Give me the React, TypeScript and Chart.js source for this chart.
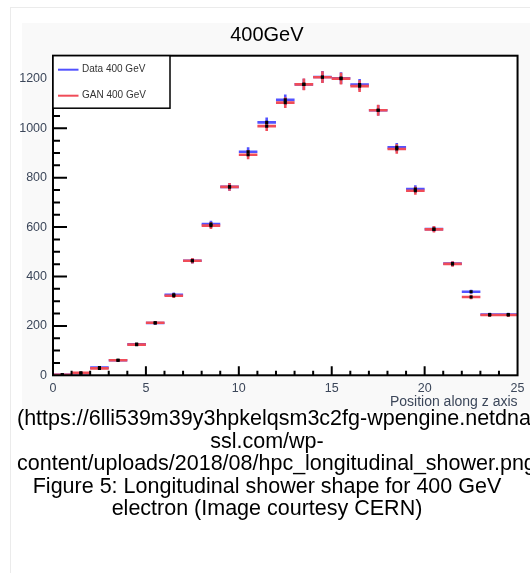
import React, { useEffect, useRef } from "react";
import { Chart, registerables } from "chart.js";

Chart.register(...registerables);

// ---- data ----
const binCenters = [0.5, 1.5, 2.5, 3.5, 4.5, 5.5, 6.5, 7.5, 8.5, 9.5, 10.5, 11.5, 12.5, 13.5, 14.5, 15.5, 16.5, 17.5, 18.5, 19.5, 20.5, 21.5, 22.5, 23.5, 24.5];
const binHalfWidth = 0.5;
const dataValues = [2, 8, 31, 61, 126, 212, 326, 464, 612, 763, 905, 1024, 1115, 1178, 1208, 1203, 1177, 1073, 923, 754, 592, 452, 338, 246, 246];
const dataErrors = [1, 2, 3, 4, 5, 7, 9, 11, 14, 16, 18, 20, 22, 23, 24, 24, 23, 21, 18, 15, 12, 10, 8, 7, 7];
const ganValues = [2, 10, 28, 61, 124, 213, 322, 464, 606, 763, 893, 1009, 1104, 1178, 1207, 1201, 1171, 1073, 916, 747, 591, 451, 317, 244, 244];
const ganErrors = [1, 2, 3, 4, 5, 7, 9, 11, 14, 16, 18, 20, 22, 24, 24, 24, 24, 22, 19, 16, 13, 11, 9, 8, 8];
const seriesLabels = ["Data 400 GeV", "GAN 400 GeV"];
const seriesColors = ["#5252ff", "#f04c58"];
const chartTitle = "400GeV";
const xAxisTitle = "Position along z axis";
const xMin = 0;
const xMax = 25;
const xMajorStep = 5;
const xMinorStep = 1;
const yMin = 0;
const yMax = 1294;
const yMajorStep = 200;
const yMinorStep = 50;
const captionLines = [
  "(https://6lli539m39y3hpkelqsm3c2fg-wpengine.netdna-",
  "ssl.com/wp-",
  "content/uploads/2018/08/hpc_longitudinal_shower.png)",
  "Figure 5: Longitudinal shower shape for 400 GeV",
  "electron (Image courtesy CERN)",
];

const FONT = "'Liberation Sans', Arial, sans-serif";
const LABEL_COLOR = "#3c475a";

const backgroundPlugin = {
  id: "rootBackground",
  beforeDraw(chart: any) {
    const { ctx, width, height, chartArea: a } = chart;
    ctx.save();
    ctx.fillStyle = "#f9f9f9";
    ctx.fillRect(22, 23, width - 22, height - 23);
    ctx.fillStyle = "#ffffff";
    ctx.fillRect(a.left, a.top, a.right - a.left, a.bottom - a.top);
    ctx.restore();
  },
};

const errorBarPlugin = {
  id: "histErrorBars",
  beforeDatasetsDraw(chart: any) {
    const { ctx, scales } = chart;
    const xs = scales.x;
    const ys = scales.y;
    ctx.save();
    ctx.lineWidth = 2.6;
    ctx.lineCap = "butt";
    chart.data.datasets.forEach((ds: any) => {
      ctx.strokeStyle = ds.borderColor;
      ds.data.forEach((p: any, i: number) => {
        const err = ds.errors[i];
        const x0 = xs.getPixelForValue(p.x - binHalfWidth);
        const x1 = xs.getPixelForValue(p.x + binHalfWidth);
        const xc = xs.getPixelForValue(p.x);
        const y = ys.getPixelForValue(p.y);
        const ye0 = ys.getPixelForValue(p.y - err);
        const ye1 = ys.getPixelForValue(p.y + err);
        ctx.beginPath();
        ctx.moveTo(x0, y);
        ctx.lineTo(x1, y);
        ctx.moveTo(xc, ye0);
        ctx.lineTo(xc, ye1);
        ctx.stroke();
      });
    });
    ctx.restore();
  },
};

const frameTicksPlugin = {
  id: "frameTicks",
  afterDraw(chart: any) {
    const { ctx, chartArea: a, scales } = chart;
    const xs = scales.x;
    const ys = scales.y;
    ctx.save();
    ctx.strokeStyle = "#000";
    ctx.lineWidth = 2;
    ctx.beginPath();
    for (let v = xMin + xMinorStep; v < xMax; v += xMinorStep) {
      const px = xs.getPixelForValue(v);
      const len = v % xMajorStep === 0 ? 9 : 4.5;
      ctx.moveTo(px, a.bottom);
      ctx.lineTo(px, a.bottom - len);
    }
    for (let v = yMin + yMinorStep; v < yMax; v += yMinorStep) {
      const py = ys.getPixelForValue(v);
      const len = v % yMajorStep === 0 ? 14 : 7;
      ctx.moveTo(a.left, py);
      ctx.lineTo(a.left + len, py);
    }
    ctx.stroke();
    ctx.strokeRect(a.left, a.top, a.right - a.left, a.bottom - a.top);

    // legend box inside the frame
    const bx = a.left;
    const by = a.top;
    const bw = 117;
    const bh = 52.5;
    ctx.fillStyle = "#ffffff";
    ctx.fillRect(bx, by, bw, bh);
    ctx.lineWidth = 1.5;
    ctx.strokeRect(bx, by, bw, bh);
    ctx.font = `10px ${FONT}`;
    ctx.textBaseline = "middle";
    ctx.textAlign = "left";
    chart.data.datasets.forEach((ds: any, i: number) => {
      const ly = by + 14 + i * 26;
      ctx.strokeStyle = ds.borderColor;
      ctx.lineWidth = 2;
      ctx.beginPath();
      ctx.moveTo(bx + 5, ly);
      ctx.lineTo(bx + 25.5, ly);
      ctx.stroke();
      ctx.fillStyle = "#333";
      ctx.fillText(ds.label, bx + 29, ly);
    });
    ctx.restore();
  },
};

export default function App() {
  const canvasRef = useRef<HTMLCanvasElement | null>(null);

  useEffect(() => {
    if (!canvasRef.current) return;
    const makePoints = (vals: number[]) => binCenters.map((x, i) => ({ x, y: vals[i] }));
    const chart = new Chart(canvasRef.current, {
      type: "scatter",
      data: {
        datasets: [
          {
            label: seriesLabels[0],
            data: makePoints(dataValues),
            errors: dataErrors,
            borderColor: seriesColors[0],
            backgroundColor: "#000",
            pointStyle: "rect",
            pointRadius: 2.2,
            pointBorderWidth: 0,
            showLine: false,
          } as any,
          {
            label: seriesLabels[1],
            data: makePoints(ganValues),
            errors: ganErrors,
            borderColor: seriesColors[1],
            backgroundColor: "#000",
            pointStyle: "rect",
            pointRadius: 2.2,
            pointBorderWidth: 0,
            showLine: false,
          } as any,
        ],
      },
      options: {
        animation: false,
        responsive: false,
        maintainAspectRatio: false,
        layout: { padding: { left: 11, right: 7.3, top: 0, bottom: 0 } },
        plugins: {
          legend: { display: false },
          tooltip: { enabled: false },
          title: {
            display: true,
            text: chartTitle,
            color: "#000",
            font: { family: FONT, size: 20, weight: "normal" },
            padding: { top: 23, bottom: 8.7 },
          },
        },
        scales: {
          x: {
            type: "linear",
            min: xMin,
            max: xMax,
            grid: { display: false, drawTicks: false },
            border: { display: false },
            ticks: {
              stepSize: xMajorStep,
              includeBounds: false,
              padding: 5.5,
              color: LABEL_COLOR,
              font: { family: FONT, size: 12.5 },
              maxRotation: 0,
              callback: (v: any) => String(v),
            },
            title: {
              display: true,
              text: xAxisTitle,
              align: "end",
              color: LABEL_COLOR,
              font: { family: FONT, size: 14 },
              padding: { top: 0, bottom: 1.5 },
            },
            afterFit: (axis: any) => {
              axis.height = 36.7;
            },
          },
          y: {
            type: "linear",
            min: yMin,
            max: yMax,
            grid: { display: false, drawTicks: false },
            border: { display: false },
            ticks: {
              stepSize: yMajorStep,
              includeBounds: false,
              padding: 6,
              color: LABEL_COLOR,
              font: { family: FONT, size: 12.5 },
              callback: (v: any) => String(v),
            },
            afterFit: (axis: any) => {
              axis.width = 42;
            },
          },
        },
      } as any,
      plugins: [backgroundPlugin, errorBarPlugin, frameTicksPlugin],
    });
    return () => chart.destroy();
  }, []);

  return (
    <div
      style={{
        position: "absolute",
        left: 0,
        top: 0,
        width: 530,
        height: 573,
        overflow: "hidden",
        background: "#fff",
      }}
    >
      <div
        style={{
          position: "absolute",
          left: 10,
          top: 7,
          width: 600,
          height: 700,
          border: "1px solid #ebebeb",
          boxSizing: "border-box",
        }}
      />
      <canvas
        ref={canvasRef}
        width={530}
        height={412}
        style={{ position: "absolute", left: 0, top: 0, width: 530, height: 412 }}
      />
      <div
        style={{
          position: "absolute",
          left: 17,
          top: 407,
          width: 500,
          fontFamily: FONT,
          fontSize: 21.5,
          lineHeight: "22.5px",
          color: "#000",
          textAlign: "center",
        }}
      >
        {captionLines.map((line, i) => (
          <div key={i} style={{ whiteSpace: "nowrap" }}>
            {line}
          </div>
        ))}
      </div>
    </div>
  );
}
